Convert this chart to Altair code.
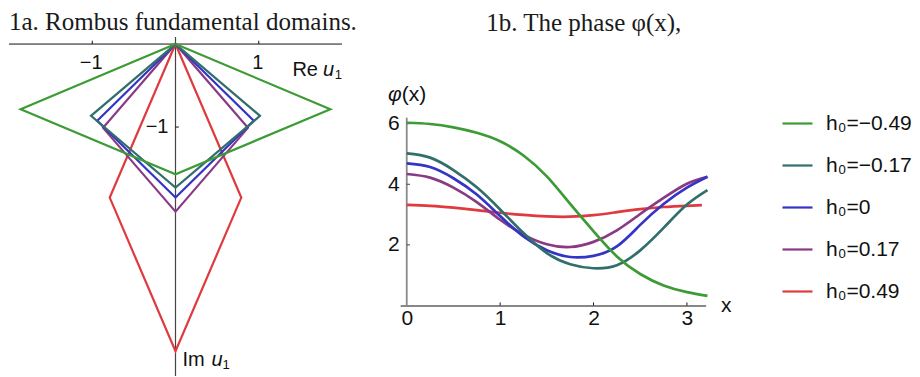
import altair as alt
import pandas as pd

# ---------------- data ----------------
LABELS = ["h₀=−0.49", "h₀=−0.17", "h₀=0", "h₀=0.17", "h₀=0.49"]
COLORS = ["#3d9b35", "#316f6c", "#3434c6", "#8a3a84", "#e0393e"]

# rhombus fundamental domains: half-width (Re) and half-depth (Im) of each rhombus
RH_RE = [1.86, 1.015, 0.94, 0.87, 0.79]
RH_IM = [0.785, 0.865, 0.925, 1.01, 1.85]

# phase curves phi(x)
X_GRID = [0, 0.25, 0.5, 0.75, 1.0, 1.25, 1.5, 1.75, 2.0, 2.25, 2.5, 2.75, 3.0, 3.22]
PHI_M049 = [6.03, 5.99, 5.88, 5.70, 5.42, 4.95, 4.26, 3.35, 2.45, 1.62, 1.04, 0.66, 0.44, 0.32]
PHI_M017 = [5.02, 4.88, 4.47, 3.90, 3.17, 2.39, 1.73, 1.36, 1.23, 1.33, 1.82, 2.56, 3.33, 3.81]
PHI_0 = [4.69, 4.57, 4.20, 3.66, 2.95, 2.28, 1.82, 1.60, 1.64, 1.95, 2.66, 3.35, 3.89, 4.25]
PHI_P017 = [4.34, 4.22, 3.89, 3.41, 2.83, 2.34, 2.02, 1.93, 2.10, 2.48, 3.02, 3.55, 4.02, 4.25]
X_RED = [0, 0.25, 0.5, 0.75, 1.0, 1.25, 1.5, 1.75, 2.0, 2.25, 2.5, 2.75, 3.0, 3.16]
PHI_P049 = [3.32, 3.29, 3.23, 3.15, 3.06, 2.99, 2.94, 2.93, 2.98, 3.08, 3.18, 3.25, 3.29, 3.31]

LEFT_TICKS = [-1, 1]
LEFT_TICK_LABELS = ["−1", "1"]
RIGHT_X_TICKS = [0, 1, 2, 3]
RIGHT_Y_TICKS = [2, 4, 6]

SANS = "Liberation Sans"
SERIF = "Liberation Serif"

# ---------------- left panel ----------------
lx = alt.Scale(domain=[-2, 2], nice=False, zero=False)
ly = alt.Scale(domain=[-4, 0.085], nice=False, zero=False)

left_layers = []
axis_h = pd.DataFrame({"x1": [-2.0], "x2": [2.0], "y": [0.0]})
left_layers.append(
    alt.Chart(axis_h).mark_rule(color="#111", strokeWidth=1).encode(
        x=alt.X("x1:Q", scale=lx, axis=None), x2="x2:Q", y=alt.Y("y:Q", scale=ly, axis=None)
    )
)
axis_v = pd.DataFrame({"x": [0.0], "y1": [-4.0], "y2": [0.085]})
left_layers.append(
    alt.Chart(axis_v).mark_rule(color="#444", strokeWidth=1.2).encode(
        x=alt.X("x:Q", scale=lx, axis=None), y=alt.Y("y1:Q", scale=ly, axis=None), y2="y2:Q"
    )
)
tick_h = pd.DataFrame({"x": LEFT_TICKS, "y1": [0.0, 0.0], "y2": [0.04, 0.04]})
left_layers.append(
    alt.Chart(tick_h).mark_rule(color="#111", strokeWidth=1).encode(
        x=alt.X("x:Q", scale=lx, axis=None), y=alt.Y("y1:Q", scale=ly, axis=None), y2="y2:Q"
    )
)
tick_v = pd.DataFrame({"x1": [0.0], "x2": [0.04], "y": [-1.0]})
left_layers.append(
    alt.Chart(tick_v).mark_rule(color="#111", strokeWidth=1).encode(
        x=alt.X("x1:Q", scale=lx, axis=None), x2="x2:Q", y=alt.Y("y:Q", scale=ly, axis=None)
    )
)

# rhombi, drawn so that the first series ends up on top
for i in reversed(range(len(LABELS))):
    a, b = RH_RE[i], RH_IM[i]
    df = pd.DataFrame({
        "re": [0, a, 0, -a, 0],
        "im": [0, -b, -2 * b, -b, 0],
        "k": [0, 1, 2, 3, 4],
    })
    left_layers.append(
        alt.Chart(df).mark_line(color=COLORS[i], strokeWidth=2.2, strokeJoin="miter").encode(
            x=alt.X("re:Q", scale=lx, axis=None),
            y=alt.Y("im:Q", scale=ly, axis=None),
            order=alt.Order("k:Q"),
        )
    )

lab_h = pd.DataFrame({"x": LEFT_TICKS, "y": [0.0, 0.0], "t": LEFT_TICK_LABELS})
left_layers.append(
    alt.Chart(lab_h).mark_text(font=SANS, fontSize=20, baseline="top", align="center", dy=9, dx=-1, color="#111").encode(
        x=alt.X("x:Q", scale=lx, axis=None), y=alt.Y("y:Q", scale=ly, axis=None), text="t:N"
    )
)
lab_v = pd.DataFrame({"x": [0.0], "y": [-1.0], "t": ["−1"]})
left_layers.append(
    alt.Chart(lab_v).mark_text(font=SANS, fontSize=20, baseline="middle", align="right", dx=-7, color="#111").encode(
        x=alt.X("x:Q", scale=lx, axis=None), y=alt.Y("y:Q", scale=ly, axis=None), text="t:N"
    )
)

# axis names Re u1 / Im u1
def name_parts(xv, yv, parts):
    out = []
    for txt, dx, dy, size, style, align in parts:
        d = pd.DataFrame({"x": [xv], "y": [yv], "t": [txt]})
        out.append(
            alt.Chart(d).mark_text(font=SANS, fontSize=size, fontStyle=style, align=align,
                                   baseline="middle", dx=dx, dy=dy, color="#111").encode(
                x=alt.X("x:Q", scale=lx, axis=None), y=alt.Y("y:Q", scale=ly, axis=None), text="t:N"
            )
        )
    return out

left_layers += name_parts(2.0, -0.31, [
    ("Re", -24, 0, 20, "normal", "right"),
    ("u", -8, 0, 20, "italic", "right"),
    ("1", 0, 5, 13, "normal", "right"),
])
left_layers += name_parts(0.0, -3.81, [
    ("Im", 7, 0, 20, "normal", "left"),
    ("u", 36, 0, 20, "italic", "left"),
    ("1", 47, 5, 13, "normal", "left"),
])

left = alt.layer(*left_layers).properties(
    width=333, height=339,
    title=alt.TitleParams("1a. Rombus fundamental domains.", anchor="start", frame="group",
                          font=SERIF, fontSize=25, fontWeight="normal", color="#1a1a1a", offset=1),
)

# ---------------- right panel ----------------
rx = alt.Scale(domain=[-0.07, 3.2], nice=False, zero=False)
ry = alt.Scale(domain=[0, 8.86], nice=False, zero=False)
cscale = alt.Scale(domain=LABELS, range=COLORS)

x_axis = alt.Axis(values=RIGHT_X_TICKS, format="d", domain=True, domainColor="#111", domainWidth=1,
                  ticks=False, grid=False, labelFont=SANS, labelFontSize=21, labelColor="#111",
                  labelPadding=2, title=None, labelFlush=False)
y_axis = alt.Axis(values=RIGHT_Y_TICKS, format="d", domain=False, ticks=False, grid=False,
                  labelFont=SANS, labelFontSize=21, labelColor="#111", labelPadding=1, title=None)
legend = alt.Legend(orient="none", legendX=772, legendY=70, title=None, symbolType="stroke",
                    symbolSize=900, symbolStrokeWidth=2.2, labelFont=SANS, labelFontSize=21,
                    labelColor="#111", rowPadding=15, labelOffset=12, padding=0, direction="vertical")

series = [
    (X_GRID, PHI_M049), (X_GRID, PHI_M017), (X_GRID, PHI_0), (X_GRID, PHI_P017), (X_RED, PHI_P049)
]

right_layers = []
yaxis_line = pd.DataFrame({"x": [0.0], "y1": [0.0], "y2": [6.2]})
right_layers.append(
    alt.Chart(yaxis_line).mark_rule(color="#8a8a8a", strokeWidth=1.8).encode(
        x=alt.X("x:Q", scale=rx, axis=x_axis), y=alt.Y("y1:Q", scale=ry, axis=y_axis), y2="y2:Q"
    )
)
xt = pd.DataFrame({"x": RIGHT_X_TICKS[1:], "y1": [0.0] * 3, "y2": [0.1] * 3})
right_layers.append(
    alt.Chart(xt).mark_rule(color="#111", strokeWidth=1).encode(
        x=alt.X("x:Q", scale=rx), y=alt.Y("y1:Q", scale=ry), y2="y2:Q"
    )
)
yt = pd.DataFrame({"x1": [0.0] * 3, "x2": [0.035] * 3, "y": RIGHT_Y_TICKS})
right_layers.append(
    alt.Chart(yt).mark_rule(color="#444", strokeWidth=1).encode(
        x=alt.X("x1:Q", scale=rx), x2="x2:Q", y=alt.Y("y:Q", scale=ry)
    )
)
for i in reversed(range(len(LABELS))):
    xs, ys = series[i]
    df = pd.DataFrame({"x": xs, "phi": ys, "h": [LABELS[i]] * len(xs)})
    right_layers.append(
        alt.Chart(df).mark_line(strokeWidth=2.7, interpolate="natural").encode(
            x=alt.X("x:Q", scale=rx),
            y=alt.Y("phi:Q", scale=ry),
            color=alt.Color("h:N", scale=cscale, legend=legend),
        )
    )

phi_lab = pd.DataFrame({"x": [0.0], "y": [6.95], "a": ["φ"], "b": ["(x)"]})
right_layers.append(
    alt.Chart(phi_lab).mark_text(font=SANS, fontSize=21, fontStyle="italic", align="right", baseline="middle", dx=-5, color="#111").encode(
        x=alt.X("x:Q", scale=rx), y=alt.Y("y:Q", scale=ry), text="a:N"
    )
)
right_layers.append(
    alt.Chart(phi_lab).mark_text(font=SANS, fontSize=21, align="left", baseline="middle", dx=-5, color="#111").encode(
        x=alt.X("x:Q", scale=rx), y=alt.Y("y:Q", scale=ry), text="b:N"
    )
)
x_lab = pd.DataFrame({"x": [3.42], "y": [0.0], "t": ["x"]})
right_layers.append(
    alt.Chart(x_lab).mark_text(font=SANS, fontSize=21, align="center", baseline="middle", color="#111").encode(
        x=alt.X("x:Q", scale=rx), y=alt.Y("y:Q", scale=ry), text="t:N"
    )
)

right = alt.layer(*right_layers).properties(
    width=305.4, height=268.5,
    title=alt.TitleParams("1b. The phase φ(x),", anchor="start", frame="group", dx=86,
                          font=SERIF, fontSize=25, fontWeight="normal", color="#1a1a1a", offset=1),
)

chart = alt.hconcat(left, right, spacing=58.2, bounds="flush").properties(
    padding={"top": 2, "left": 0, "right": 0, "bottom": 0}
).configure(background="white", view=alt.ViewConfig(stroke=None))

chart.save("out.html", embed_options={"renderer": "svg", "actions": False})
